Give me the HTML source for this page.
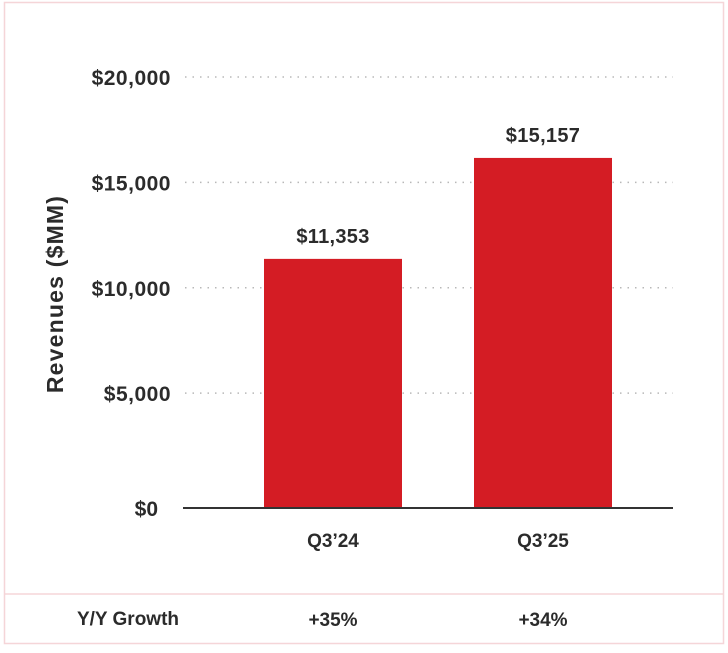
<!DOCTYPE html>
<html><head><meta charset="utf-8"><style>
html,body{margin:0;padding:0;background:#fff;}
body{width:728px;height:648px;overflow:hidden;font-family:"Liberation Sans",sans-serif;}
</style></head><body>
<svg id="chart" width="728" height="648" xmlns="http://www.w3.org/2000/svg" font-family="Liberation Sans, sans-serif">
<rect x="4.5" y="2.5" width="719" height="641" fill="none" stroke="#f5d5d8" stroke-width="1.5"/>
<line x1="4" y1="594" x2="724" y2="594" stroke="#f5d5d8" stroke-width="1.5"/>
<text transform="translate(63,294) rotate(-90)" text-anchor="middle" font-size="23" font-weight="bold" letter-spacing="1.2" fill="#2b2b2b">Revenues ($MM)</text>
<g id="grid"></g><g id="bars"></g>
<line x1="183" y1="508" x2="673" y2="508" stroke="#333" stroke-width="2"/>
<text x="128" y="625" text-anchor="middle" font-size="19" font-weight="bold" fill="#2b2b2b">Y/Y Growth</text>
</svg>
<script>
const categories = ["Q3\u201924", "Q3\u201925"];
const barValues = [11370, 16160];
const valueLabels = ["$11,353", "$15,157"];
const growthLabels = ["+35%", "+34%"];
const tickValues = [20000, 15000, 10000, 5000];
const tickLabels = ["$20,000", "$15,000", "$10,000", "$5,000"];
const NS = "http://www.w3.org/2000/svg";
const y = v => 498.5 - v * (421.5 / 20000);
const baseY = 508;
const xCenter = i => 333 + i * 210;
const barW = 138;
const grid = document.getElementById('grid');
const bars = document.getElementById('bars');
function mk(tag, attrs, parent, txt){const e=document.createElementNS(NS,tag);for(const k in attrs)e.setAttribute(k,attrs[k]);if(txt!==undefined)e.textContent=txt;parent.appendChild(e);return e;}
tickValues.forEach((v,i)=>{
  const l=mk('line',{x1:185,x2:673,y1:y(v),y2:y(v),stroke:'#b8b8b8','stroke-width':1.5,'stroke-dasharray':'1.5 6'},grid);
  
  
  const t=mk('text',{x:171,y:y(v)+8,'text-anchor':'end','font-size':21,'font-weight':'bold','letter-spacing':0.5,fill:'#2b2b2b'},grid,tickLabels[i]);
  
  
});
const z=mk('text',{x:158,y:baseY+8,'text-anchor':'end','font-size':21,'font-weight':'bold',fill:'#2b2b2b'},grid,'$0');


categories.forEach((c,i)=>{
  const cx=xCenter(i), top=y(barValues[i]);
  const r=mk('rect',{x:cx-barW/2,y:top,width:barW,height:baseY-top,fill:'#d41c24'},bars);
  
  
  const vl=mk('text',{x:cx,y:top-16,'text-anchor':'middle','font-size':20,'font-weight':'bold','letter-spacing':0.3,fill:'#2b2b2b'},bars,valueLabels[i]);
  
  
  const xl=mk('text',{x:cx,y:547,'text-anchor':'middle','font-size':19,'font-weight':'bold',fill:'#2b2b2b'},bars,c);
  
  
  const g=mk('text',{x:cx,y:626,'text-anchor':'middle','font-size':19,'font-weight':'bold',fill:'#2b2b2b'},bars,growthLabels[i]);
  
  
});
</script>
</body></html>
